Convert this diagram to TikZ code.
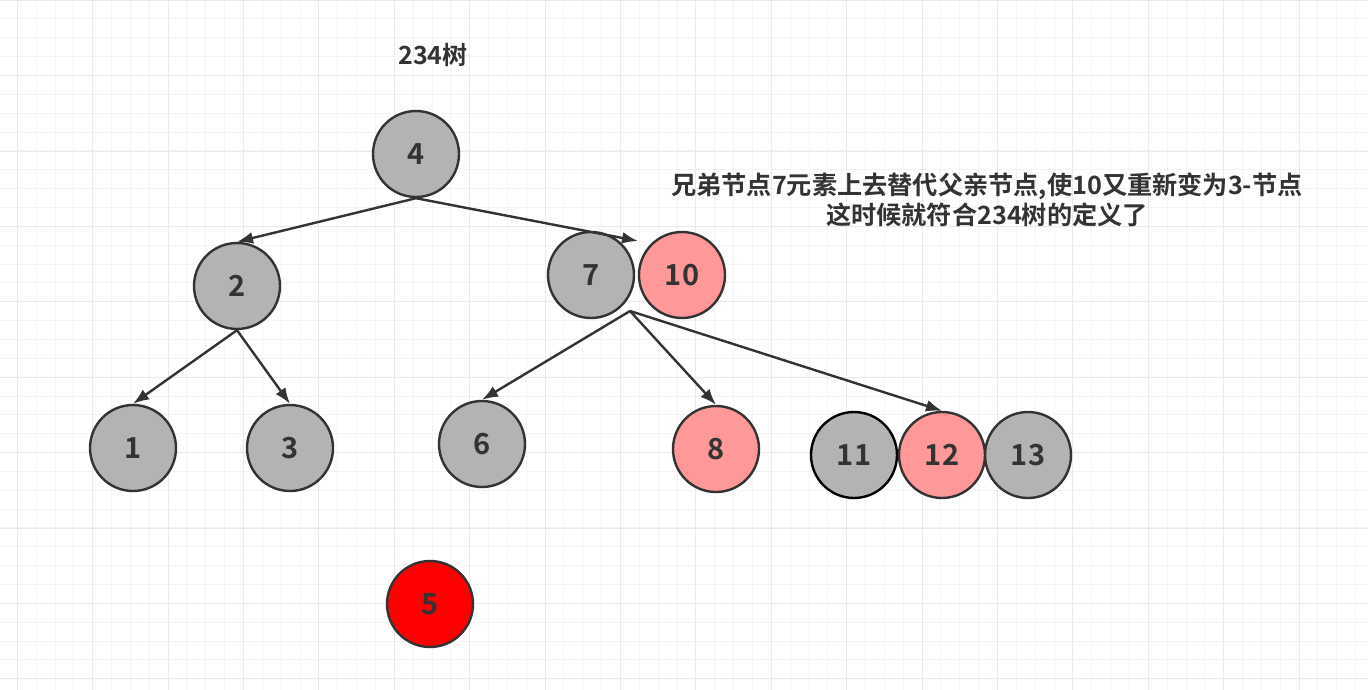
\documentclass[tikz,border=0pt]{standalone}
\usepackage{fontspec}
\usepackage{xcolor}
\usepackage{tikz}
\usetikzlibrary{arrows.meta}
\newfontfamily\cjk{Noto Sans CJK SC}[BoldFont={Noto Sans CJK SC Bold}]
\definecolor{nutxam}{HTML}{B3B3B3}
\definecolor{nuthong}{HTML}{FF9999}
\definecolor{nutdo}{HTML}{FF0000}
\definecolor{vien}{HTML}{333333}
\definecolor{luoinho}{HTML}{F4F4F4}
\definecolor{luoilon}{HTML}{EAEAEA}

\begin{document}
\begin{tikzpicture}[x=1pt, y=-1pt, >={Latex[length=16pt, width=12pt]},
    nut/.style={circle, draw=vien, line width=2.4pt, minimum size=86pt, inner sep=0pt,
        text=vien, font=\cjk\bfseries\fontsize{29}{34}\selectfont},
    nodegray/.style={nut, fill=nutxam},
    nodepink/.style={nut, fill=nuthong},
    nodered/.style={nut, fill=nutdo},
    canh/.style={->, draw=vien, line width=2.4pt},
    chu/.style={text=vien, font=\cjk\bfseries\fontsize{25.2}{30}\selectfont}]
    \useasboundingbox (0,0) rectangle (1368,690);
    
    % Lưới nền
    \foreach \i in {0,...,73} {
        \draw[luoinho, line width=1pt] ({-1.55+\i*18.85},0) -- ({-1.55+\i*18.85},690);
    }
    \foreach \j in {0,...,37} {
        \draw[luoinho, line width=1pt] (0,{0.15+\j*18.85}) -- (1368,{0.15+\j*18.85});
    }
    \foreach \i in {0,...,18} {
        \draw[luoilon, line width=1pt] ({17.3+\i*75.4},0) -- ({17.3+\i*75.4},690);
    }
    \foreach \j in {0,...,9} {
        \draw[luoilon, line width=1pt] (0,{0.3+\j*75.4}) -- (1368,{0.3+\j*75.4});
    }
    
    % Tiêu đề và ghi chú
    \node[chu, font=\cjk\bfseries\fontsize{25}{30}\selectfont] (tieude) at (433,55) {234树};
    \node[chu, align=center] (ghichu) at (987,200)
        {兄弟节点7元素上去替代父亲节点,使10又重新变为3-节点\\这时候就符合234树的定义了};
    
    % Các nút
    \node[nodegray] (n4) at (416,154) {4};
    \node[nodegray] (n2) at (237,286) {2};
    \node[nodegray] (n7) at (591,275) {7};
    \node[nodepink] (n10) at (682,275) {10};
    \node[nodegray] (n1) at (133,448) {1};
    \node[nodegray] (n3) at (290,448) {3};
    \node[nodegray] (n6) at (482,444) {6};
    \node[nodepink] (n8) at (716,449) {8};
    \node[nodegray, draw=black] (n11) at (854,455) {11};
    \node[nodegray] (n13) at (1028,455) {13};
    \node[nodepink] (n12) at (942,455) {12};
    \node[nodered] (n5) at (430,604) {5};
    
    % Điểm nối
    \coordinate (dinh710) at (638,241);
    \coordinate (day7) at (630,311);
    
    % Các cạnh
    \draw[canh] (n4.south) -- (n2.north);
    \draw[canh] (n4.south) -- (dinh710);
    \draw[canh] (n2.south) -- (n1.north);
    \draw[canh] (n2.south) -- (n3.north);
    \draw[canh] (day7) -- (n6.north);
    \draw[canh] (day7) -- (n8.north);
    \draw[canh] (day7) -- (n12.north);
\end{tikzpicture}
\end{document}
